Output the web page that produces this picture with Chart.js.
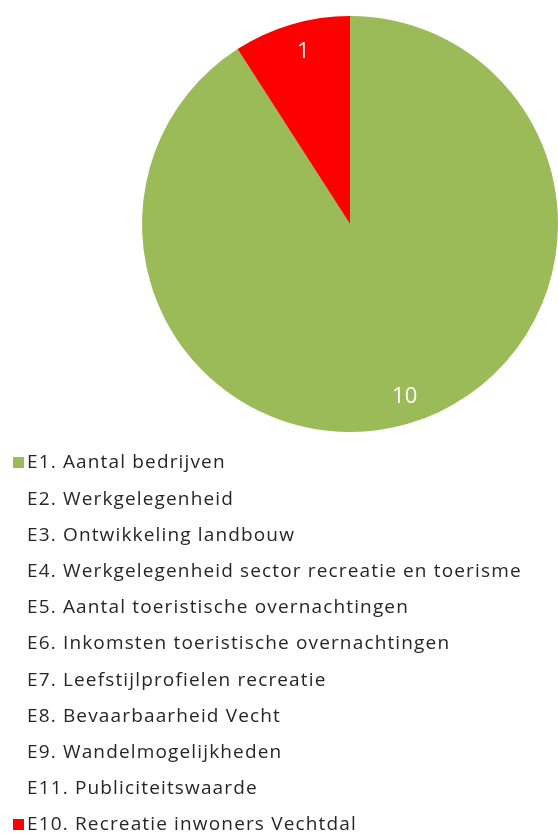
<!DOCTYPE html>
<html>
<head>
<meta charset="utf-8">
<script src="https://cdn.jsdelivr.net/npm/chart.js@4/dist/chart.umd.min.js"></script>
<style>
  html, body { margin: 0; padding: 0; background: #fff; }
  #wrap { width: 558px; height: 834px; position: relative; }
</style>
</head>
<body>
<div id="wrap"><canvas id="chart" width="558" height="834"></canvas></div>
<script>
const categories = [
  "E1. Aantal bedrijven",
  "E2. Werkgelegenheid",
  "E3. Ontwikkeling landbouw",
  "E4. Werkgelegenheid sector recreatie en toerisme",
  "E5. Aantal toeristische overnachtingen",
  "E6. Inkomsten toeristische overnachtingen",
  "E7. Leefstijlprofielen recreatie",
  "E8. Bevaarbaarheid Vecht",
  "E9. Wandelmogelijkheden",
  "E11. Publiciteitswaarde",
  "E10. Recreatie inwoners Vechtdal",
];
const counts = [10, 0, 0, 0, 0, 0, 0, 0, 0, 0, 1];
const sliceColors = [
  "#9bbb59", "#4f81bd", "#c0504d", "#8064a2", "#4bacc6",
  "#f79646", "#2c4d75", "#772c2a", "#5f7530", "#276a7c", "#ff0000",
];

const textFont = "'Open Sans', Lato, sans-serif";

// value labels inside the slices, white
const sliceLabels = {
  id: "sliceLabels",
  afterDatasetsDraw(chart) {
    const ctx = chart.ctx;
    const meta = chart.getDatasetMeta(0);
    ctx.save();
    ctx.fillStyle = "#ffffff";
    ctx.font = "22px " + textFont;
    ctx.textAlign = "center";
    ctx.textBaseline = "middle";
    meta.data.forEach((arc, i) => {
      const v = chart.data.datasets[0].data[i];
      if (!v) return;
      const mid = (arc.startAngle + arc.endAngle) / 2;
      const r = arc.outerRadius * 0.865;
      ctx.fillText(String(v), arc.x + Math.cos(mid) * r + 4, arc.y + Math.sin(mid) * r);
    });
    ctx.restore();
  },
};

// vertical legend below the pie; boxes only for slices that have a value
const listLegend = {
  id: "listLegend",
  afterDraw(chart) {
    const ctx = chart.ctx;
    const ds = chart.data.datasets[0];
    ctx.save();
    ctx.font = "19px " + textFont;
    ctx.letterSpacing = "1.15px";
    ctx.textBaseline = "middle";
    ctx.textAlign = "left";
    chart.data.labels.forEach((label, i) => {
      const y = 463 + i * 36.2;
      if (ds.data[i]) {
        ctx.fillStyle = ds.backgroundColor[i];
        ctx.fillRect(13, y - 6, 11, 11);
      }
      ctx.fillStyle = "#262626";
      ctx.fillText(label, 27, y);
    });
    ctx.restore();
  },
};

new Chart(document.getElementById("chart"), {
  type: "pie",
  data: {
    labels: categories,
    datasets: [{
      data: counts,
      backgroundColor: sliceColors,
      borderWidth: 0,
    }],
  },
  options: {
    responsive: false,
    animation: false,
    layout: { padding: { left: 142, right: 0, top: 16, bottom: 402 } },
    plugins: {
      legend: { display: false },
      tooltip: { enabled: false },
    },
  },
  plugins: [sliceLabels, listLegend],
});
</script>
</body>
</html>
